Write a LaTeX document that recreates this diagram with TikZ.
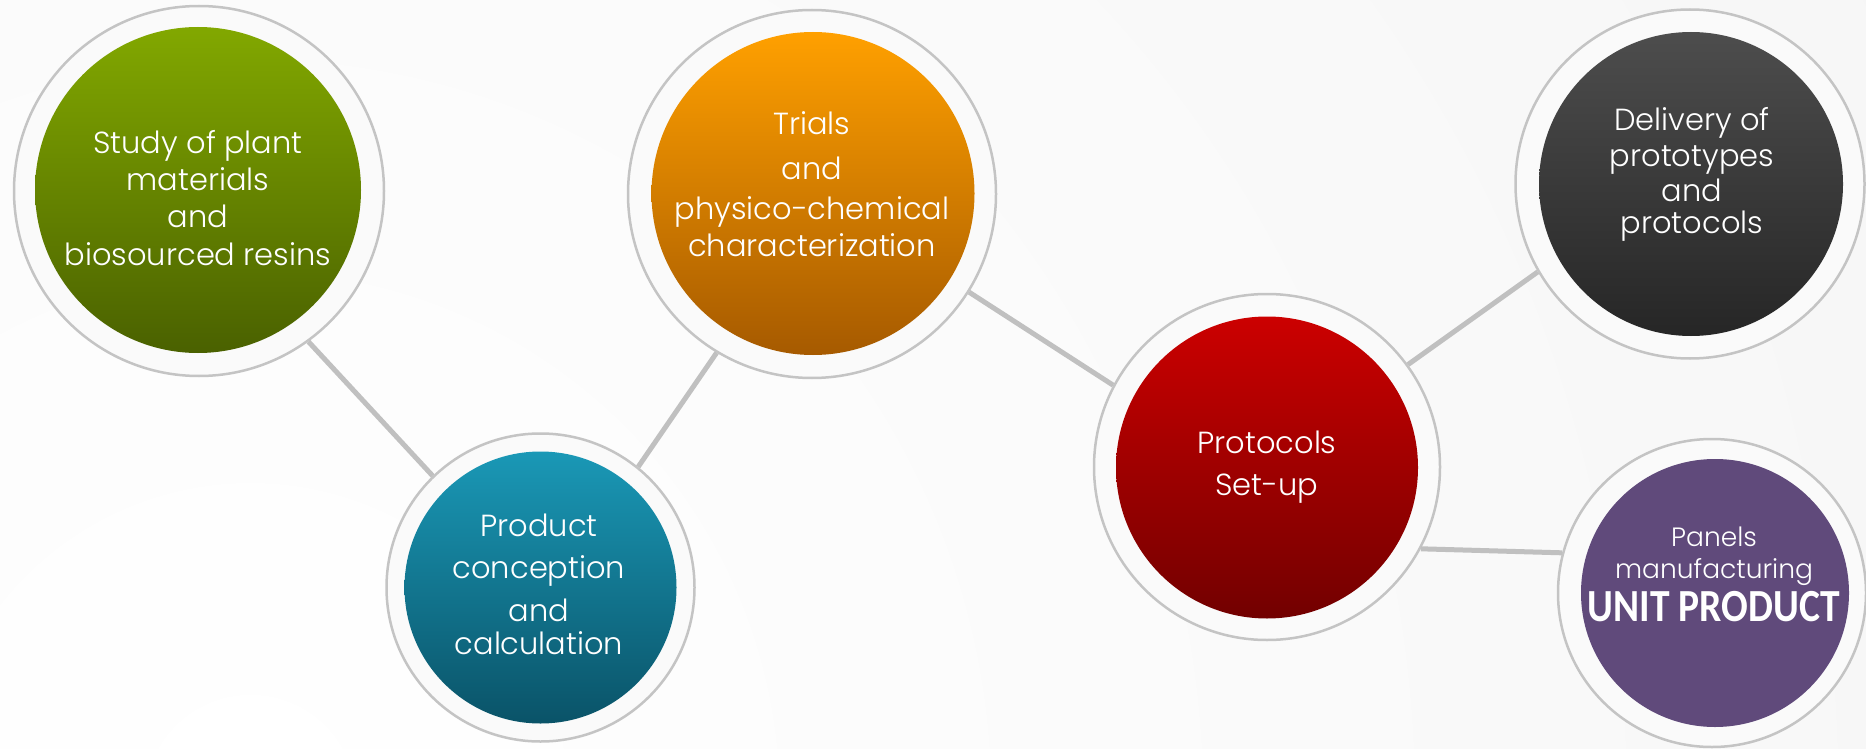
\documentclass[tikz,border=0pt]{standalone}
\usepackage{graphicx}
\usepackage{fontspec}
\setmainfont{Poppins}[UprightFont=* Light]
\newfontfamily\boldsans{Carlito}
\definecolor{bggray}{HTML}{EEEEEE}
\definecolor{ringgray}{HTML}{C4C4C4}
\definecolor{ringfill}{HTML}{FAFAFA}
\definecolor{conncolor}{HTML}{C0C0C0}
\definecolor{gTop}{HTML}{82A800}
\definecolor{gBot}{HTML}{4A6100}
\definecolor{oTop}{HTML}{FFA000}
\definecolor{oBot}{HTML}{A65A00}
\definecolor{tTop}{HTML}{1A98B6}
\definecolor{tBot}{HTML}{0A5368}
\definecolor{rTop}{HTML}{CC0000}
\definecolor{rBot}{HTML}{720000}
\definecolor{dTop}{HTML}{4D4D4D}
\definecolor{dBot}{HTML}{262626}
\definecolor{pFill}{HTML}{604A7B}
\tikzset{
  ring/.style={circle, draw=ringgray, line width=2.5pt, fill=ringfill, inner sep=0pt},
  ball/.style={circle, inner sep=0pt, draw=none},
  lbl/.style={text=white, align=center, inner sep=0pt, font=\fontsize{30.5}{36}\selectfont},
  conn/.style={draw=conncolor, line width=5pt}
}
\begin{document}
\begin{tikzpicture}[x=1pt,y=-1pt]
\useasboundingbox (0,0) rectangle (1866,749);
\begin{scope}
\clip (0,0) rectangle (1866,749);
\shade[inner color=white, outer color=bggray] (250,800) circle (3600);
\end{scope}

% rings
\node[ring, minimum size=370pt] (g) at (199,191) {};
\node[ring, minimum size=308pt] (t) at (540.5,587.5) {};
\node[ring, minimum size=368pt] (o) at (812,194) {};
\node[ring, minimum size=346pt] (r) at (1267,467) {};
\node[ring, minimum size=349pt] (d) at (1690,184) {};
\node[ring, minimum size=308pt] (p) at (1712,593) {};

% connectors
\draw[conn] (g.306) -- (t.134.5);
\draw[conn] (t.51) -- (o.239);
\draw[conn] (o.-32) -- (r.152);
\draw[conn] (r.36) -- (d.210);
\draw[conn] (r.-28.5) -- (p.165);

% inner balls
\node[ball, minimum size=326pt, top color=gTop, bottom color=gBot] (gi) at (198,190) {};
\node[ball, minimum size=272pt, top color=tTop, bottom color=tBot] (ti) at (540.5,587.5) {};
\node[ball, minimum size=323pt, top color=oTop, bottom color=oBot] (oi) at (813,193.5) {};
\node[ball, minimum size=302pt, top color=rTop, bottom color=rBot] (ri) at (1267,467.5) {};
\node[ball, minimum size=304pt, top color=dTop, bottom color=dBot] (di) at (1691,184) {};
\node[ball, minimum size=268pt, fill=pFill] (pi) at (1715,593) {};

% labels
\node[lbl] (gt) at (198,198) {Study of plant\\[1pt]materials\\[1pt]and\\[1.5pt]biosourced resins};
\node[lbl] (ot) at (812,184) {Trials\\[9pt]and\\[4pt]physico-chemical\\[1pt]characterization};
\node[lbl] (tt) at (539,584) {Product\\[6pt]conception\\[7pt]and\\[-3pt]calculation};
\node[lbl] (rt) at (1267,467) {Protocols\\[6pt]Set-up};
\node[lbl] (dt) at (1692,174) {Delivery of\\prototypes\\[-1pt]and\\[-4pt]protocols};
\node[lbl, font=\fontsize{26.5}{35}\selectfont] (pt) at (1714,574) {Panels\\[-3pt]manufacturing\\[5pt]{\boldsans\bfseries\fontsize{46}{46}\selectfont\scalebox{0.86}[1]{UNIT PRODUCT}}};
\end{tikzpicture}
\end{document}
